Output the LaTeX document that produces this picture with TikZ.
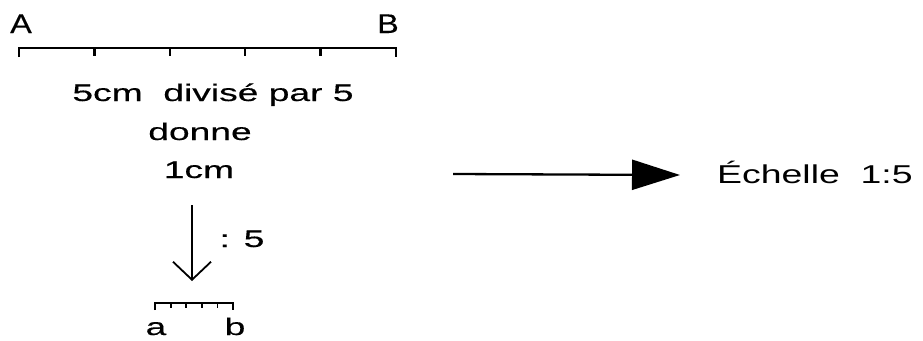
\documentclass[tikz,border=0pt]{standalone}
\usepackage{fontspec}
\usetikzlibrary{arrows.meta}
\newfontfamily\lfont[FakeStretch=1.55,FakeBold=0.35]{Liberation Sans}
\newfontfamily\rfont[FakeStretch=1.45]{Liberation Sans}
\newfontfamily\abfont[FakeStretch=1.2,FakeBold=0.35]{Liberation Sans}
\tikzset{
  ltext/.style={font=\lfont\fontsize{24}{24}\selectfont, inner sep=0pt, anchor=base},
  abtext/.style={font=\abfont\fontsize{27}{27}\selectfont, inner sep=0pt, anchor=base},
  rtext/.style={font=\rfont\fontsize{25.8}{25.8}\selectfont, inner sep=0pt, anchor=base west},
  scaleline/.style={line width=2.3pt},
  smallscale/.style={line width=1.8pt},
}
\begin{document}
\begin{tikzpicture}[x=1pt,y=-1pt]
\useasboundingbox (0,0) rectangle (923,340);
% big scale
\node[abtext] (A) at (21,33) {A};
\node[abtext] (B) at (388,33) {B};
\draw[scaleline] (19,57) -- (19,48) -- (396,48) -- (396,57);
\foreach \x in {94.4,169.8,245.2,320.6} \draw[scaleline] (\x,48) -- (\x,56);
% texts
\node[ltext] (t1) at (213,101) {5cm\ \ divisé par 5};
\node[ltext] (t2) at (200,140) {donne};
\node[ltext] (t3) at (199,178) {1cm};
% down arrow
\coordinate (dS) at (192,205);
\coordinate (dE) at (192,281);
\draw[line width=1.8pt, -{Straight Barb[length=18pt,width=38pt,line width=1.8pt]}] (dS) -- (dE);
\node[ltext] (div) at (242,247) {: 5};
% small scale
\draw[smallscale] (155,310) -- (155,303) -- (233,303) -- (233,310);
\foreach \x in {170.6,186.2,201.8,217.4} \draw[smallscale] (\x,303) -- (\x,308);
\node[ltext] (a) at (156,335) {a};
\node[ltext] (b) at (235,335) {b};
% right arrow
\coordinate (rS) at (453,174);
\coordinate (rE) at (680,175);
\draw[line width=2.3pt, -{Triangle[length=48pt,width=30pt]}] (rS) -- (rE);
\node[rtext] (ech) at (717,183) {Échelle\ \ 1:5};
\end{tikzpicture}
\end{document}
